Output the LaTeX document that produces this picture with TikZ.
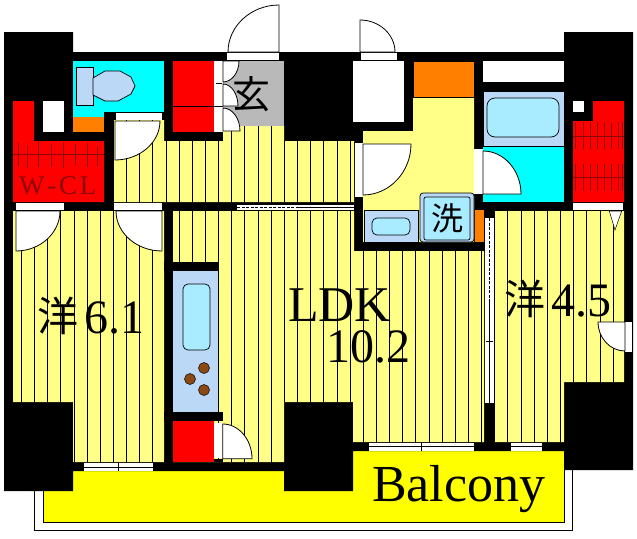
\documentclass[tikz,border=0pt]{standalone}
\usepackage{fontspec}
\setmainfont{Liberation Serif}
\newfontfamily\cjkfont{Noto Sans CJK JP}
\definecolor{stripeyellow}{HTML}{FFFF88}
\definecolor{balconyyellow}{HTML}{FFFF00}
\definecolor{fixblue}{HTML}{BBD8F6}
\definecolor{tubblue}{HTML}{A9ECFF}
\definecolor{wetcyan}{HTML}{00FFFF}
\definecolor{storeorange}{HTML}{FF8000}
\definecolor{entrygray}{HTML}{B9B9B9}
\definecolor{closetred}{HTML}{FF0000}
\definecolor{hangerred}{HTML}{8A0A0A}
\definecolor{stovebrown}{HTML}{8B4A14}
\tikzset{
  thinline/.style={draw=black,line width=.8pt},
  doorleaf/.style={fill=white,draw=black,line width=.8pt},
  fixture/.style={fill=fixblue,draw=black,line width=.7pt},
  basin/.style={fill=tubblue,draw=black,line width=.7pt,rounded corners=#1},
  hanger/.style={draw=hangerred,line width=.6pt},
  labeltext/.style={inner sep=0pt,anchor=base west,text=black},
}
% hinge x, hinge y, far x of swing, far y of swing
\newcommand{\doorswing}[4]{\path[doorleaf] (#1,#2) -- (#1,#4) .. controls ({#1+.55*(#3-#1)},#4) and (#3,{#2+.55*(#4-#2)}) .. (#3,#2) -- cycle;}
\newcommand{\patch}[5]{\fill[#1] (#2,#3) rectangle (#4,#5);}
\begin{document}
\begin{tikzpicture}[x=1pt,y=-1pt]
\useasboundingbox (0,0) rectangle (637,538);
\fill[white] (0,0) rectangle (637,538);
% balcony
\draw[thinline] (34.5,488) -- (34.5,530) -- (572,530) -- (572,468);
\path[fill=balconyyellow,thinline] (43,488) -- (43,522) -- (564,522) -- (564,448) -- (60,448) -- (60,488) -- cycle;
% building mass
\fill[black] (4,32) -- (73,32) -- (73,52) -- (564,52) -- (564,32) -- (633,32) -- (633,470) -- (564,470) -- (564,451) -- (353,451) -- (353,491) -- (284,491) -- (284,471) -- (73,471) -- (73,491) -- (4,491) -- cycle;
% striped floors
\begin{scope}
\clip (114,120) -- (164,120) -- (164,141) -- (223,141) -- (223,126) -- (284,126) -- (284,141) -- (354,141) -- (354,202) -- (114,202) -- cycle
 (13,211) -- (164,211) -- (164,462) -- (73,462) -- (73,402) -- (13,402) -- cycle
 (173,211) -- (354,211) -- (354,251) -- (484,251) -- (484,442) -- (353,442) -- (353,402) -- (284,402) -- (284,462) -- (173,462) -- cycle
 (494,211) -- (624,211) -- (624,382) -- (564,382) -- (564,442) -- (494,442) -- cycle;
\fill[stripeyellow] (0,100) rectangle (637,480);
\foreach \k in {0,...,46} \draw[black,line width=.8pt] ({21.3+13.15*\k},100) -- ({21.3+13.15*\k},480);
\end{scope}
% wash room
\fill[stripeyellow] (363,131) -- (413,131) -- (413,97) -- (474,97) -- (474,242) -- (363,242) -- cycle;
\path[fill=storeorange,thinline] (413,61) rectangle (474,97);
\patch{white}{353}{61}{404}{122}
% wash basin and machine
\path[fixture] (364,210) rectangle (418,242);
\path[basin=5pt] (372,218) rectangle (410,235);
\patch{storeorange}{475}{210}{484}{242}
\path[fixture,rounded corners=3pt] (420,193) rectangle (474,242);
\path[fill=tubblue,draw=black,line width=.7pt,rounded corners=2pt] (424,197) rectangle (470,240);
% bath
\patch{white}{483}{61}{564}{82}
\path[fixture] (483,91) rectangle (564,146);
\path[basin=8pt] (487,98) rectangle (559,137);
\patch{wetcyan}{483}{146.5}{564}{202}
\patch{white}{474}{149}{483}{194}
\doorswing{483}{194}{521}{151}
% toilet room
\patch{wetcyan}{73}{61}{164}{112}
\patch{wetcyan}{73}{112}{104}{117}
\patch{storeorange}{73}{117}{104}{132}
\path[fixture] (76,67) rectangle (93,105);
\path[fixture] (93,78) -- (105,71) -- (120,71) -- (131,77) -- (135,86) -- (131,94) -- (118,101) -- (105,101) -- (93,95) -- cycle;
\patch{white}{116}{112.5}{162}{120}
\doorswing{115}{121}{160}{160}
% walk-in closet
\fill[closetred] (13,101) -- (34,101) -- (34,141) -- (104,141) -- (104,202) -- (13,202) -- cycle;
\patch{white}{43}{101}{64}{132}
\draw[hanger] (13,154.5) -- (104,154.5);
\foreach \x/\a/\b in {18/143/166,27/145/168,38/142/167,51/144/167,63/142/168,75/144/165,87/143/167,97/146/167} \draw[hanger] (\x,\a) -- (\x,\b);
% east closet
\fill[closetred] (593,101) -- (624,101) -- (624,202) -- (573,202) -- (573,121) -- (593,121) -- cycle;
\patch{white}{573}{101}{584}{112}
\draw[hanger] (573,136) -- (624,136) (573,177) -- (624,177);
\foreach \x in {575,583,590,597,604,611,618,622} {
  \draw[hanger] (\x,122) -- (\x,149);
  \draw[hanger] (\x,164) -- (\x,191);
}
\patch{white}{573}{202.5}{623}{210}
\path[doorleaf,line width=.5pt] (609.3,211) -- (621.7,211) -- (615,230) -- cycle;
% entry closet and entry
\path[fill=closetred] (173,61) rectangle (214,132);
\draw[black,line width=.7pt] (173,106) -- (214,106);
\patch{white}{214}{61}{222.5}{132}
\draw[black,line width=.8pt] (216,83) -- (222,83) (214,106) -- (223,106);
\patch{entrygray}{223}{61}{284}{126}
\doorswing{223}{61}{239}{82}
\doorswing{223}{106}{238}{84}
\doorswing{223}{131}{240}{108}
\path[doorleaf] (226,52) rectangle (279,60.5);
\doorswing{279}{52}{228}{5}
% shaft door
\path[doorleaf] (360,52) rectangle (397,60.5);
\doorswing{360}{52}{395}{20}
% door to wash room
\patch{white}{354.5}{143}{363}{197}
\doorswing{363}{144}{411}{195}
% doors on the hall wall
\patch{white}{16}{203}{64}{210}
\doorswing{16}{211}{60}{251}
\patch{white}{114}{203}{162}{210}
\doorswing{162}{211}{116}{251}
% sliding door hall to LDK
\patch{white}{237}{204.5}{354}{209.5}
\draw[black,line width=.7pt,dash pattern=on 3pt off 1.5pt] (237,207) -- (296,207);
\draw[black,line width=.7pt] (296,207) -- (354,207);
% sliding door LDK to east room
\patch{white}{485}{218}{493.5}{403}
\draw[black,line width=.7pt,dash pattern=on 3pt off 1.5pt] (489,218) -- (489,300);
\draw[black,line width=.7pt] (489,300) -- (489,403) (486,341) -- (493,341);
% east room door
\patch{white}{625}{322}{632}{352}
\doorswing{625}{322}{598}{351}
% kitchen
\fill[black] (164,262) rectangle (218,271);
\path[fill=fixblue] (173,271) rectangle (218.3,412);
\draw[black,line width=.7pt] (218.3,271) -- (218.3,412);
\path[basin=5pt] (183,284) rectangle (210,350);
\foreach \cx/\cy in {204/368,190/379,204/390} \path[fill=stovebrown,draw=black,line width=.5pt] (\cx,\cy) circle (5.5);
\fill[black] (164,412) rectangle (223,421);
\patch{closetred}{173}{421}{214}{462}
\patch{white}{214}{423}{222.5}{458}
\doorswing{222.7}{458.7}{252}{424}
\fill[black] (164,458.7) rectangle (222.5,462);
\patch{closetred}{173}{421}{214}{462}
% windows
\foreach \xa/\xb/\ya/\yb in {84/153/463/471,369/474/442.5/451,511/542/442.5/451} {
  \patch{white}{\xa}{\ya}{\xb}{\yb}
  \draw[black,line width=.7pt] (\xa,{(\ya+\yb)/2}) -- (\xb,{(\ya+\yb)/2});
}
\draw[black,line width=.7pt] (118,463) -- (118,471) (421,442.5) -- (421,451);
% labels
\node[inner sep=0pt,font=\cjkfont\fontsize{38}{38}\selectfont] (genkan) at (251,94) {玄};
\node[inner sep=0pt,font=\cjkfont\fontsize{32}{32}\selectfont] (sen) at (447,218) {洗};
\node[inner sep=0pt,font=\cjkfont\fontsize{41}{41}\selectfont] (yoa) at (58,316) {洋};
\node[labeltext,font=\fontsize{48}{48}\selectfont] (sixone) at (84,333) {6.1};
\node[inner sep=0pt,font=\cjkfont\fontsize{41}{41}\selectfont] (yob) at (525,299) {洋};
\node[labeltext,font=\fontsize{48}{48}\selectfont] (fourfive) at (551,316) {4.5};
\node[labeltext,font=\fontsize{50}{50}\selectfont] (ldk) at (288,321) {LDK};
\node[labeltext,font=\fontsize{48}{48}\selectfont] (area) at (326,362) {10.2};
\node[labeltext,font=\fontsize{52}{52}\selectfont] (balcony) at (372,501) {Balcony};
\node[labeltext,text=hangerred,font=\fontsize{27}{27}\selectfont] (wcl) at (19,194) {W\kern.1em-\kern.1em C\kern.1em L};
\end{tikzpicture}
\end{document}
